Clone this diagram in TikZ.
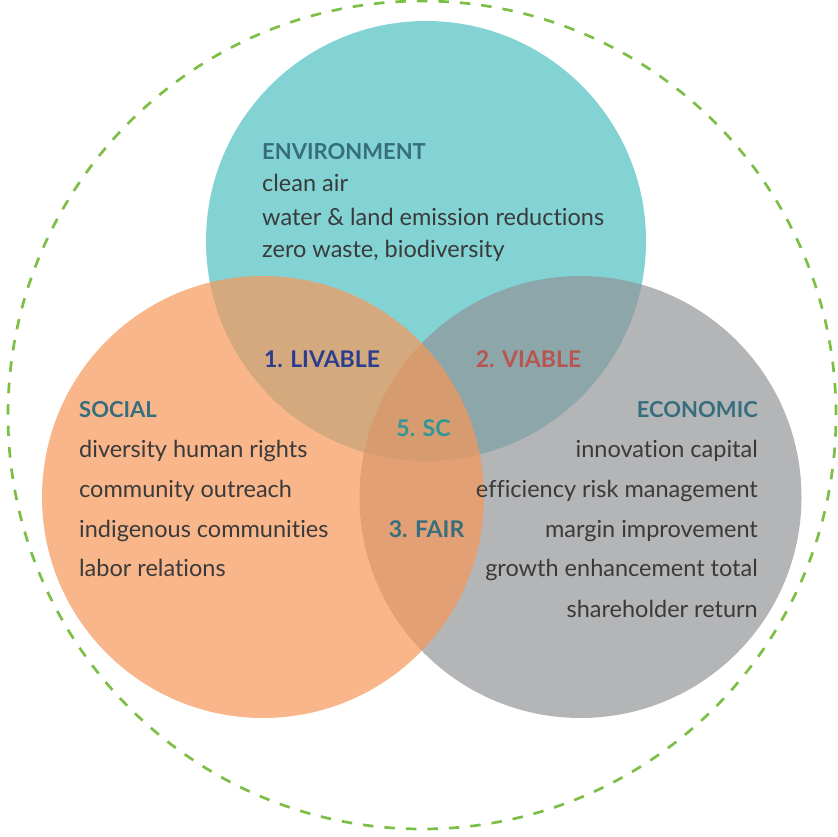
\documentclass[tikz,border=0pt]{standalone}
\usepackage{fontspec}
\setmainfont{Lato}[Ligatures=NoCommon]
\usetikzlibrary{calc}
\usepackage{color}

\definecolor{envteal}{RGB}{131,211,212}
\definecolor{socorange}{RGB}{245,152,90}
\definecolor{ecogray}{RGB}{145,146,149}
\definecolor{ringgreen}{RGB}{125,190,70}
\definecolor{headteal}{RGB}{55,110,125}
\definecolor{bodygray}{RGB}{58,58,58}
\definecolor{livnavy}{RGB}{42,61,143}
\definecolor{viared}{RGB}{184,85,80}
\definecolor{scteal}{RGB}{46,150,150}

\tikzset{
  head/.style={font=\fontsize{22}{27}\selectfont\bfseries, text=headteal, inner sep=0pt},
  body/.style={font=\fontsize{23.5}{27}\selectfont, text=bodygray, inner sep=0pt},
  zone/.style={font=\fontsize{23}{27}\selectfont\bfseries, inner sep=0pt}
}

\begin{document}
\begin{tikzpicture}[x=1pt, y=1pt]

	\useasboundingbox (0,0) rectangle (837,837);

	% the three circles
	\fill[envteal] (426,596) circle(220);
	\fill[ecogray, opacity=.68] (580.5,340) circle(221);
	\fill[socorange, opacity=.71] (263,340) circle(221);

	% outer ring
	\draw[ringgreen, line width=2.7pt, dash pattern=on 10.5pt off 11pt] (422,422) circle(414);

	% environment
	\node[head, anchor=base west] (envhead) at (262,677) {ENVIRONMENT};
	\node[body, anchor=base west] (env1) at (262,645) {clean air};
	\node[body, anchor=base west] (env2) at (262,611) {water \& land emission reductions};
	\node[body, anchor=base west] (env3) at (262,579) {zero waste, biodiversity};

	% social
	\node[head, anchor=base west] (sochead) at (79,419) {SOCIAL};
	\node[body, anchor=base west] (soc1) at (79,379) {diversity human rights};
	\node[body, anchor=base west] (soc2) at (79,339) {community outreach};
	\node[body, anchor=base west] (soc3) at (79,299) {indigenous communities};
	\node[body, anchor=base west] (soc4) at (79,260) {labor relations};

	% economic
	\node[head, anchor=base east] (ecohead) at (758,419) {ECONOMIC};
	\node[body, anchor=base east] (eco1) at (758,379) {innovation capital};
	\node[body, anchor=base east] (eco2) at (758,339) {efficiency risk management};
	\node[body, anchor=base east] (eco3) at (758,299) {margin improvement};
	\node[body, anchor=base east] (eco4) at (758,260) {growth enhancement total};
	\node[body, anchor=base east] (eco5) at (758,219) {shareholder return};

	% overlaps
	\node[zone, text=livnavy, anchor=base] (livable) at (322,469) {1. LIVABLE};
	\node[zone, text=viared, anchor=base] (viable) at (528.5,469) {2. VIABLE};
	\node[zone, text=scteal, anchor=base] (sc) at (423.5,400) {5. SC};
	\node[zone, text=headteal, anchor=base] (fair) at (426.5,299) {3. FAIR};

\end{tikzpicture}
\end{document}
